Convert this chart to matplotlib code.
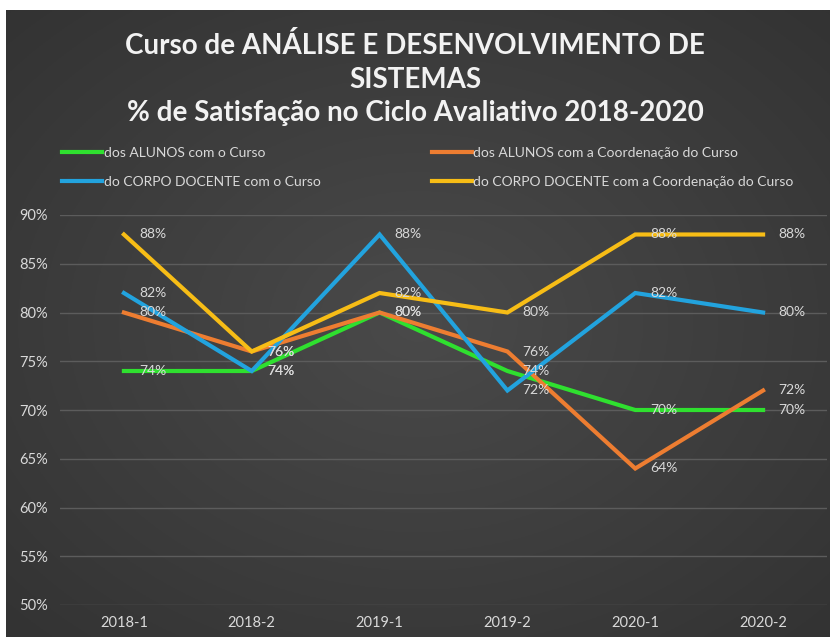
#!/usr/bin/env python3

import numpy as np
import matplotlib.pyplot as plt

periods = ["2018-1", "2018-2", "2019-1", "2019-2", "2020-1", "2020-2"]

alunos_curso = [74, 74, 80, 74, 70, 70]
alunos_coord = [80, 76, 80, 76, 64, 72]
docente_curso = [82, 74, 88, 72, 82, 80]
docente_coord = [88, 76, 82, 80, 88, 88]

series_names = [
    "dos ALUNOS com o Curso",
    "dos ALUNOS com a Coordenação do Curso",
    "do CORPO DOCENTE com o Curso",
    "do CORPO DOCENTE com a Coordenação do Curso",
]
series_colors = ["#2fe02f", "#ed7d31", "#22a3de", "#f7bd16"]

title_text = ("Curso de ANÁLISE E DESENVOLVIMENTO DE\nSISTEMAS\n"
              "% de Satisfação no Ciclo Avaliativo 2018-2020")

plt.rcParams['font.family'] = ['Lato', 'DejaVu Sans']
txt_color = "#d9d9d9"

W, H = 830, 637
fig = plt.figure(figsize=(W / 100, H / 100), dpi=100, facecolor="white")

# dark chart area with a soft radial gradient
bg = fig.add_axes([6 / W, 0, 1 - 6 / W, 1 - 10 / H])
gx, gy = np.meshgrid(np.linspace(-1, 1, 400), np.linspace(-1, 1, 300))
r = np.sqrt(gx ** 2 + gy ** 2)
shade = 0.29 - 0.09 * np.clip(r / 1.4, 0, 1)
bg.imshow(np.dstack([shade, shade, shade]), aspect="auto", extent=[0, 1, 0, 1])
bg.set_axis_off()

ax = fig.add_axes([60 / W, 1 - 605 / H, (827 - 60) / W, (605 - 215) / H])
ax.set_facecolor("none")

x = np.arange(len(periods))
all_series = [alunos_curso, alunos_coord, docente_curso, docente_coord]
lines = []
for vals, name, col in zip(all_series, series_names, series_colors):
    ln, = ax.plot(x, vals, color=col, lw=3, label=name, solid_joinstyle="miter", zorder=3)
    lines.append(ln)
    for xi, v in zip(x, vals):
        ax.annotate(f"{v}%", (xi, v), xytext=(11, 0), textcoords="offset points",
                    va="center", ha="left", fontsize=10, color=txt_color, zorder=4)

ax.set_xlim(-0.5, len(periods) - 0.5)
ax.set_ylim(50, 90)
ax.set_yticks(np.arange(50, 91, 5))
ax.set_yticklabels([f"{t}%" for t in range(50, 91, 5)])
ax.set_xticks(x)
ax.set_xticklabels(periods)
ax.tick_params(colors=txt_color, labelsize=10.5, length=0)
ax.tick_params(axis="y", pad=9)
ax.tick_params(axis="x", pad=8)
ax.grid(axis="y", color="#5c5c5c", lw=1)
for s in ax.spines.values():
    s.set_visible(False)

fig.text(0.5, 1 - 79 / H, title_text, ha="center", va="center", fontsize=20,
         fontweight="bold", color="#f2f2f2", linespacing=1.35)

leg = fig.legend([lines[0], lines[2], lines[1], lines[3]],
                 [series_names[0], series_names[2], series_names[1], series_names[3]],
                 ncol=2, loc="upper left", bbox_to_anchor=(62 / W, 1 - 147 / H),
                 frameon=False, fontsize=10, labelcolor=txt_color,
                 borderpad=0, borderaxespad=0,
                 handlelength=2.9, handletextpad=0.1, columnspacing=8.0,
                 labelspacing=1.2)

fig.savefig("out.png", dpi=100, facecolor="white")
